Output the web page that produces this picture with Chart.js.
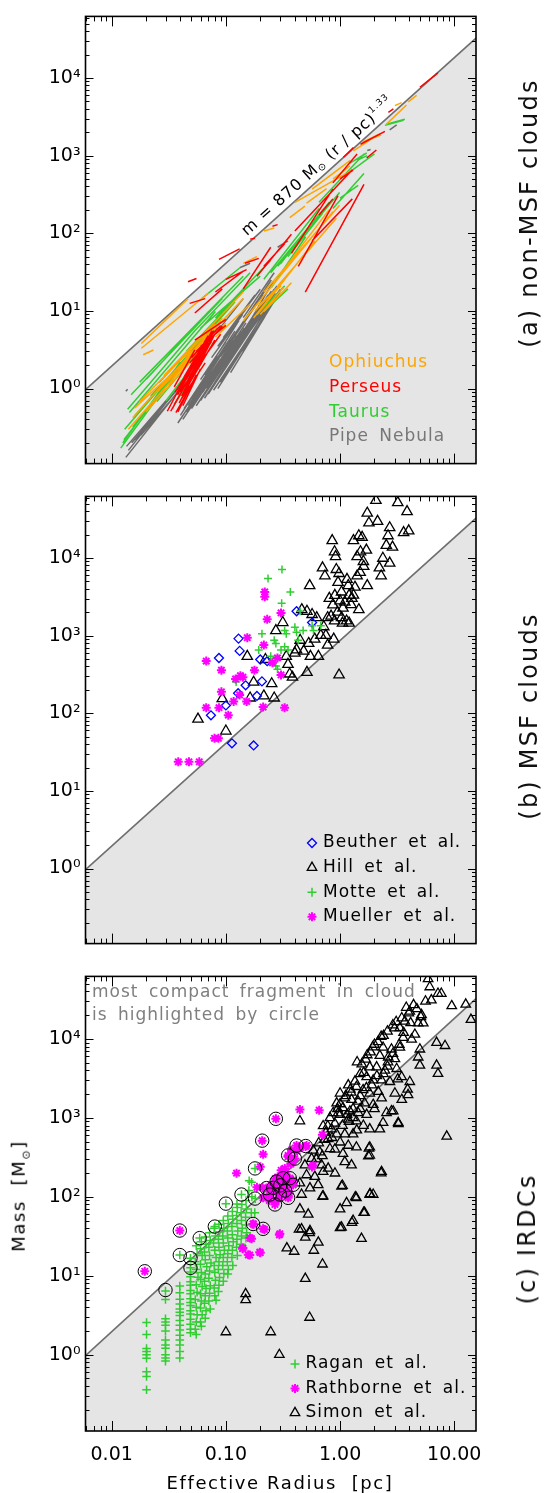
<!DOCTYPE html>
<html>
<head>
<meta charset="utf-8">
<title>Mass-radius relation of clouds</title>
<script src="https://cdn.jsdelivr.net/npm/chart.js@4.4.1/dist/chart.umd.min.js"></script>
<style>
  html, body { margin: 0; padding: 0; background: #fff; }
  body { position: relative; width: 545px; height: 1493px; overflow: hidden; font-family: "DejaVu Sans", sans-serif; }
  .panel { position: absolute; left: 0; width: 545px; }
  .rot { position: absolute; white-space: nowrap; transform: translate(-50%, -50%) rotate(-90deg); }
  .side { font-size: 24px; letter-spacing: 2.2px; color: #111; }
  .axis-title { position: absolute; white-space: nowrap; font-size: 18px; letter-spacing: 1.6px; color: #000; }
  .axis-title sub { font-size: 11px; }
</style>
</head>
<body>
<div class="panel" style="top:0;height:480px"><canvas id="panel-a" width="545" height="480"></canvas></div>
<div class="panel" style="top:480px;height:480px"><canvas id="panel-b" width="545" height="480"></canvas></div>
<div class="panel" style="top:960px;height:533px"><canvas id="panel-c" width="545" height="533"></canvas></div>

<div class="rot side" style="left:529px;top:213px">(a) non-MSF clouds</div>
<div class="rot side" style="left:529px;top:716px">(b) MSF clouds</div>
<div class="rot side" style="left:527px;top:1239px">(c) IRDCs</div>
<div class="rot axis-title" style="left:20px;top:1196px">Mass&nbsp;&nbsp;[M<sub>⊙</sub>]</div>
<div class="axis-title" style="left:280px;top:1482px;transform:translate(-50%,-50%)">Effective Radius&nbsp;&nbsp;[pc]</div>

<script>
Chart.defaults.font.family = '"DejaVu Sans", sans-serif';
Chart.defaults.color = '#000';

const FONT = '"DejaVu Sans", sans-serif';
const X_MIN = 0.0059, X_MAX = 15.5;
const Y_MIN = 0.108, Y_MAX = 62000;
const xMajor = [0.01, 0.1, 1, 10];
const xTickLabels = ['0.01', '0.10', '1.00', '10.00'];
const yMajor = [1, 10, 100, 1000, 10000];
const yTickLabels = ['10⁰', '10¹', '10²', '10³', '10⁴'];

// m = 870 Msun (r/pc)^1.33, end points read where it meets the frame
const relR = [0.0059, 15.5];
const relM = [0.97, 32500];

// panel (a): dendrogram tracks, [r1, m1, r2, m2]
const ophSegs = [
  [0.0182, 3.8, 0.0466, 14.4], [0.0182, 3.3, 0.0706, 17], [0.0189, 2.72, 0.0232, 3.14],
  [0.0153, 0.42, 0.093, 8.1], [0.0158, 0.56, 0.0614, 3.45], [0.0176, 0.68, 0.081, 6.7],
  [0.0232, 0.83, 0.142, 14.4], [0.0286, 1.46, 0.142, 17.5], [0.0307, 1.0, 0.0535, 3.8],
  [0.187, 8.9, 0.284, 19.2], [0.194, 11.9, 0.304, 21], [0.175, 8.1, 0.265, 17.5],
  [0.142, 7.4, 0.865, 189], [0.215, 17.5, 0.99, 230], [0.284, 21, 0.928, 156],
  [0.402, 250, 1.28, 650], [0.142, 41, 0.187, 50], [0.215, 107, 0.265, 117],
  [1.31, 1150, 2.13, 1850], [3.02, 4400, 3.46, 4800], [1.99, 1690, 2.29, 1850],
  [0.569, 370, 1.23, 870], [0.215, 9.8, 0.375, 23], [0.081, 4.6, 0.163, 12.2],
  [0.363, 159, 0.492, 223], [0.509, 245, 0.762, 376], [0.871, 500, 1.22, 734],
  [1.59, 1500, 2.23, 1900], [2.55, 2540, 3.82, 4490], [3.95, 4930, 4.68, 5970],
  [0.014, 0.3, 0.05, 2.5], [0.02, 0.5, 0.07, 4.0], [0.025, 0.9, 0.1, 7.0],
  [0.04, 2.0, 0.12, 11], [0.18, 10, 0.3, 22], [0.2, 9, 0.32, 20],
  [0.22, 12, 0.6, 80], [0.3, 30, 0.8, 200]
];
const perSegs = [
  [0.0329, 0.51, 0.0659, 3.14], [0.0353, 0.62, 0.0706, 3.8], [0.0378, 0.83, 0.0757, 5.56],
  [0.0391, 1.0, 0.0706, 4.6], [0.0405, 0.72, 0.0659, 2.14], [0.0434, 1.21, 0.0784, 5.56],
  [0.0353, 1.05, 0.0535, 3.14], [0.0482, 2.14, 0.093, 6.4], [0.0535, 4.2, 0.1, 7.8],
  [0.0365, 0.49, 0.0535, 1.33], [0.0307, 0.51, 0.0465, 1.61], [0.04, 0.9, 0.07, 3.5],
  [0.045, 1.0, 0.08, 4.2], [0.042, 0.6, 0.06, 1.8], [0.05, 1.5, 0.09, 5.0],
  [0.034, 0.55, 0.06, 2.6], [0.037, 0.7, 0.065, 3.2], [0.039, 0.65, 0.062, 2.4],
  [0.041, 0.8, 0.07, 3.9], [0.044, 0.9, 0.075, 4.4], [0.047, 1.1, 0.08, 5.0],
  [0.036, 0.9, 0.058, 2.8], [0.043, 1.4, 0.07, 4.8], [0.05, 2.5, 0.085, 6.0],
  [0.055, 3.0, 0.09, 6.5], [0.038, 0.5, 0.055, 1.5], [0.06, 3.5, 0.1, 6.5],
  [0.0466, 23.7, 0.0553, 26.1], [0.087, 46, 0.132, 63], [0.163, 84, 0.18, 86],
  [0.256, 123, 0.284, 129], [0.0482, 12.5, 0.0659, 14.4], [0.0535, 9.4, 0.093, 19.2],
  [0.081, 17.5, 0.142, 32.5], [0.1, 25.5, 0.152, 34], [0.147, 41, 0.194, 47.5],
  [0.375, 55, 0.865, 369], [0.402, 107, 1.28, 655], [0.496, 17.5, 1.62, 425],
  [0.431, 37.5, 0.96, 305], [0.569, 80, 1.28, 277], [0.865, 445, 1.41, 1050],
  [1.51, 1400, 2.47, 2050], [5.0, 7590, 7.2, 11600], [2.65, 3600, 2.93, 4000],
  [1.07, 950, 1.31, 1270], [0.654, 172, 0.865, 277], [0.142, 19.2, 0.247, 66],
  [0.187, 28, 0.375, 97], [0.215, 37.5, 0.327, 73], [1.0, 500, 1.3, 650],
  [1.71, 930, 2.08, 1180]
];
const tauSegs = [
  [0.012, 0.171, 0.0535, 3.45], [0.0128, 0.22, 0.0706, 5.56], [0.0138, 0.54, 0.0535, 5.56],
  [0.0143, 0.49, 0.081, 9.8], [0.0148, 0.83, 0.093, 14.4], [0.0176, 1.21, 0.142, 28],
  [0.0202, 1.33, 0.0706, 9.8], [0.0153, 0.32, 0.0465, 2.6], [0.017, 0.39, 0.0535, 3.14],
  [0.0249, 0.68, 0.081, 5.56], [0.0286, 1.0, 0.107, 11.9], [0.0353, 0.62, 0.0614, 2.14],
  [0.0535, 5.56, 0.163, 31], [0.081, 8.1, 0.247, 45], [0.187, 8.9, 0.327, 21],
  [0.215, 9.8, 0.35, 19.2], [0.215, 25.5, 0.654, 208], [0.247, 31, 0.805, 250],
  [0.284, 37.5, 0.99, 335], [0.654, 250, 1.62, 1050], [1.28, 650, 2.0, 1050],
  [2.47, 2450, 3.6, 2850], [0.865, 208, 1.62, 590], [1.41, 870, 1.73, 1000],
  [0.0614, 14.4, 0.132, 35.7], [2.55, 2540, 3.69, 2930], [1.22, 800, 1.71, 1080],
  [1.0, 283, 1.44, 414], [0.0125, 0.2, 0.04, 2.2], [0.013, 0.3, 0.05, 3.0],
  [0.016, 0.45, 0.06, 4.2], [0.019, 0.6, 0.07, 5.0], [0.022, 0.8, 0.09, 7.5],
  [0.026, 1.2, 0.1, 10], [0.03, 0.7, 0.075, 4.0], [0.035, 1.7, 0.12, 13],
  [0.045, 3.0, 0.13, 16], [0.06, 6.0, 0.2, 28], [0.3, 40, 0.6, 150],
  [0.35, 50, 0.7, 180], [0.25, 20, 0.5, 90]
];
const pipeSegs = [
  [0.038, 0.36, 0.09, 2.4], [0.042, 0.40, 0.10, 2.7], [0.045, 0.50, 0.11, 3.5],
  [0.050, 0.55, 0.12, 3.8], [0.055, 0.60, 0.13, 4.0], [0.060, 0.70, 0.14, 4.5],
  [0.065, 0.75, 0.15, 4.8], [0.070, 0.85, 0.16, 5.3], [0.050, 0.75, 0.11, 4.2],
  [0.055, 0.95, 0.12, 5.5], [0.060, 1.1, 0.13, 6.0], [0.070, 1.3, 0.15, 7.0],
  [0.080, 1.2, 0.18, 7.5], [0.090, 1.5, 0.20, 9.0], [0.100, 2.0, 0.22, 12],
  [0.110, 2.4, 0.24, 14], [0.120, 3.0, 0.27, 17], [0.130, 3.5, 0.30, 19],
  [0.090, 2.6, 0.19, 13], [0.100, 3.2, 0.21, 16], [0.110, 4.0, 0.23, 20],
  [0.120, 5.0, 0.25, 25], [0.075, 1.8, 0.16, 9], [0.085, 1.0, 0.17, 5],
  [0.100, 1.5, 0.20, 7], [0.140, 4.5, 0.30, 18], [0.0133, 0.13, 0.040, 1.0],
  [0.014, 0.16, 0.045, 1.4], [0.015, 0.20, 0.050, 1.6], [0.0135, 0.18, 0.030, 0.7],
  [0.016, 0.22, 0.055, 1.9], [0.018, 0.25, 0.045, 1.2],
  [0.040, 0.45, 0.085, 2.6], [0.043, 0.55, 0.095, 3.2], [0.047, 0.60, 0.10, 3.4],
  [0.052, 0.65, 0.115, 4.2], [0.058, 0.80, 0.125, 4.8], [0.063, 0.90, 0.135, 5.5],
  [0.068, 1.0, 0.145, 6.0], [0.073, 1.1, 0.155, 6.5], [0.078, 1.3, 0.17, 7.5],
  [0.083, 1.6, 0.18, 9.0], [0.088, 1.9, 0.19, 10.5], [0.095, 2.2, 0.205, 12],
  [0.105, 2.8, 0.22, 14], [0.115, 3.3, 0.235, 16], [0.125, 3.8, 0.25, 18],
  [0.135, 4.2, 0.265, 19], [0.145, 5.0, 0.28, 21], [0.15, 6.0, 0.26, 24],
  [0.095, 4.5, 0.18, 16], [0.105, 5.5, 0.2, 19], [0.085, 3.5, 0.16, 12],
  [0.075, 2.5, 0.14, 9], [0.065, 1.5, 0.13, 7.5], [0.06, 1.3, 0.1, 4.0],
  [0.078, 0.95, 0.16, 4.6], [0.09, 1.2, 0.19, 6.3], [0.11, 1.6, 0.22, 8.5],
  [0.12, 2.4, 0.25, 13], [0.14, 3.0, 0.28, 16], [0.16, 4.0, 0.3, 18],
  [0.081, 5.1, 0.142, 14.4], [0.142, 8.2, 0.265, 31], [0.132, 36, 0.163, 41],
  [0.284, 66, 0.35, 80], [1.73, 1160, 1.85, 1200], [2.72, 2150, 3.13, 2485],
  [0.0133, 0.92, 0.0138, 0.98]
];

// panel (b): [r, m]
const beutherPts = [
  [0.087, 515], [0.074, 94], [0.1, 126], [0.129, 914], [0.132, 635], [0.113, 41], [0.175, 38.5],
  [0.149, 229], [0.128, 181], [0.187, 167], [0.207, 257], [0.2, 492], [0.416, 2056], [0.569, 1472], [0.23, 468]
];
const hillPts = [
  [0.057, 84], [0.1, 59], [0.093, 154], [0.154, 541], [0.163, 157], [0.175, 251], [0.215, 167], [0.252, 240],
  [0.265, 157], [0.274, 1160], [0.222, 492], [0.315, 1472], [0.338, 541], [0.35, 426], [0.362, 320], [0.383, 291],
  [0.402, 595], [0.462, 2155], [0.447, 871], [0.513, 336], [0.531, 792], [0.55, 541], [0.542, 4400], [0.569, 1868],
  [0.646, 541], [0.678, 1005], [0.702, 7440], [0.737, 5860], [0.778, 755], [0.805, 3010], [0.853, 16700], [0.895, 12000],
  [0.914, 10400], [0.927, 7100], [0.96, 4840], [0.98, 311], [0.865, 2485], [0.834, 1780], [0.895, 1543], [1.03, 3640],
  [1.06, 2260], [1.14, 1543], [1.18, 4400], [1.27, 3010], [1.31, 16700], [1.41, 5860], [1.46, 19300], [1.56, 18400],
  [1.41, 10400], [1.51, 12000], [1.61, 7800], [1.73, 4400], [1.70, 12600], [1.46, 2155], [1.31, 3310], [1.73, 37700],
  [1.79, 28200], [2.13, 29600], [2.06, 55100], [2.21, 7440], [2.29, 5860], [2.37, 9900], [2.54, 14500], [2.63, 19300],
  [2.72, 24500], [2.72, 8590], [2.88, 13800], [3.2, 51500], [3.6, 21200], [3.86, 39500], [3.99, 22300], [0.751, 1005],
  [0.416, 654], [1.03, 1700], [0.778, 1700], [0.624, 1700], [0.513, 2056], [0.95, 2000], [1.1, 2700], [1.2, 3300],
  [0.9, 3300], [1.0, 2800], [1.25, 2500], [1.35, 4200], [1.15, 5300], [0.98, 6300], [1.5, 6500], [1.6, 9000],
  [1.05, 1450], [1.2, 1450], [0.72, 1300], [0.6, 900], [0.48, 630], [0.88, 900]
];
const mottePts = [
  [0.31, 7100], [0.234, 5430], [0.367, 3640], [0.308, 2610], [0.447, 2056], [0.207, 1054], [0.194, 654],
  [0.265, 871], [0.274, 792], [0.327, 1160], [0.338, 1054], [0.402, 1276], [0.416, 1106], [0.43, 871],
  [0.475, 1160], [0.569, 1337], [0.585, 1160], [0.678, 1337], [0.304, 654], [0.327, 720], [0.35, 654],
  [0.247, 541], [0.256, 468], [0.274, 406], [0.283, 369], [0.123, 252]
];
const muellerPts = [
  [0.0383, 23.7], [0.0475, 23.7], [0.0585, 23.7], [0.0795, 47.5], [0.086, 47.5], [0.0673, 118], [0.087, 118],
  [0.105, 94.5], [0.0914, 189], [0.0914, 359], [0.0673, 469], [0.1217, 277], [0.134, 305], [0.141, 291],
  [0.117, 142], [0.132, 172], [0.152, 142], [0.178, 359], [0.154, 940], [0.215, 755], [0.219, 3640],
  [0.219, 3155], [0.23, 1620], [0.304, 1960], [0.212, 120], [0.256, 447], [0.283, 515], [0.304, 311], [0.327, 118]
];

// panel (c): [r, m]
const raganPts = [
  [0.0202, 2.55], [0.0202, 1.8], [0.0202, 1.2], [0.0202, 1.1], [0.0202, 1.0], [0.0202, 0.9], [0.0202, 0.61], [0.0202, 0.53], [0.0202, 0.36],
  [0.0296, 6.4], [0.0296, 5.0], [0.0296, 2.85], [0.0296, 2.6], [0.0296, 2.36], [0.0296, 2.0], [0.0296, 1.54], [0.0296, 1.33],
  [0.0296, 1.21], [0.0296, 1.0], [0.0296, 0.91], [0.0296, 0.83],
  [0.0395, 18.3], [0.0395, 7.4], [0.0395, 6.1], [0.0395, 5.05], [0.0395, 4.4], [0.0395, 3.8], [0.0395, 3.45], [0.0395, 3.14],
  [0.0395, 2.72], [0.0395, 2.36], [0.0395, 2.05], [0.0395, 1.77], [0.0395, 1.54], [0.0395, 1.33], [0.0395, 1.1], [0.0395, 0.91],
  [0.049, 16.7], [0.049, 12.6], [0.049, 11.2], [0.049, 9.7], [0.049, 8.4], [0.049, 7.6], [0.049, 6.5], [0.049, 5.9], [0.049, 5.1],
  [0.049, 4.6], [0.049, 4.2], [0.049, 3.6], [0.049, 3.27], [0.049, 2.82], [0.049, 2.43], [0.049, 2.1], [0.049, 1.9],
  [0.055, 24], [0.056, 19], [0.054, 15], [0.055, 12], [0.057, 9.6], [0.055, 7.7], [0.056, 6.2], [0.054, 5], [0.055, 4],
  [0.056, 3.2], [0.055, 2.6], [0.054, 2.1], [0.055, 1.8], [0.059, 30],
  [0.061, 27], [0.06, 22], [0.062, 18], [0.06, 14], [0.061, 11], [0.06, 9], [0.062, 7.3], [0.06, 5.9], [0.061, 4.8],
  [0.06, 3.9], [0.062, 3.2], [0.06, 2.6], [0.061, 2.3],
  [0.066, 31], [0.067, 25], [0.065, 20], [0.066, 16], [0.068, 13], [0.066, 10.5], [0.065, 8.5], [0.067, 6.9], [0.066, 5.6],
  [0.065, 4.5], [0.067, 3.6], [0.066, 2.9],
  [0.072, 35], [0.073, 28], [0.071, 23], [0.072, 18], [0.074, 14.5], [0.072, 11.5], [0.071, 9.3], [0.073, 7.5], [0.072, 6],
  [0.071, 4.8], [0.073, 3.8],
  [0.08, 42], [0.079, 40], [0.081, 32], [0.078, 26], [0.08, 21], [0.082, 17], [0.079, 13.5], [0.08, 11], [0.081, 8.8],
  [0.079, 7], [0.08, 5.6], [0.082, 4.9],
  [0.087, 45], [0.088, 36], [0.086, 29], [0.087, 23], [0.089, 18.5], [0.087, 15], [0.086, 12], [0.088, 9.5], [0.087, 7.6], [0.086, 6.3],
  [0.095, 50], [0.096, 40], [0.094, 32], [0.095, 26], [0.097, 21], [0.095, 17], [0.094, 13.5], [0.096, 10.7], [0.095, 8.5],
  [0.1, 82],
  [0.104, 57], [0.105, 46], [0.103, 37], [0.104, 30], [0.106, 24], [0.104, 19], [0.103, 15], [0.105, 12], [0.104, 10.5],
  [0.114, 65], [0.115, 52], [0.113, 42], [0.114, 33], [0.116, 27], [0.114, 21], [0.113, 17], [0.115, 13.5],
  [0.125, 81], [0.126, 73], [0.124, 58], [0.125, 46], [0.127, 37], [0.125, 29], [0.124, 23], [0.126, 18],
  [0.137, 107], [0.138, 80], [0.136, 63], [0.137, 50], [0.139, 40], [0.137, 32], [0.136, 25],
  [0.15, 90], [0.151, 70], [0.149, 55], [0.15, 44], [0.152, 35], [0.15, 30],
  [0.16, 160], [0.159, 120], [0.168, 153], [0.169, 100], [0.167, 63], [0.168, 45],
  [0.18, 229], [0.181, 95], [0.179, 63]
];
const rathbornePts = [
  [0.0195, 11.4], [0.0395, 37.4], [0.274, 973], [0.208, 515], [0.212, 345], [0.2, 240], [0.124, 199],
  [0.445, 1276], [0.656, 1250], [0.70, 612], [0.294, 33], [0.198, 19.9], [0.157, 18.4], [0.141, 22.4],
  [0.163, 30.1], [0.168, 29.5], [0.14, 22], [0.162, 18.3], [0.2, 19.6], [0.297, 34], [0.173, 45.3],
  [0.212, 39.3], [0.175, 45], [0.218, 38.6], [0.351, 335], [0.416, 447], [0.509, 447], [0.402, 305],
  [0.278, 156], [0.318, 172], [0.363, 172], [0.297, 107], [0.351, 97], [0.269, 80], [0.388, 142],
  [0.243, 107], [0.212, 97], [0.227, 129], [0.582, 252], [0.328, 229], [0.23, 99], [0.247, 120],
  [0.265, 146], [0.284, 178], [0.305, 217], [0.35, 322], [0.376, 393], [0.499, 433], [0.274, 89],
  [0.305, 109], [0.338, 120], [0.362, 146], [0.387, 161], [0.326, 178], [0.568, 239], [0.187, 132],
  [0.21, 130], [0.25, 140], [0.26, 115], [0.28, 125], [0.3, 150], [0.29, 95], [0.32, 130], [0.34, 160],
  [0.31, 190], [0.33, 200], [0.37, 260], [0.39, 300], [0.42, 380], [0.45, 420], [0.36, 110], [0.27, 170], [0.24, 90]
];
const simonPts = [
  [5.9, 57700], [6.1, 45500], [7.2, 37600], [7.7, 37600], [6.3, 31000], [9.5, 26200], [4.08, 22300], [5.17, 20200],
  [4.83, 15900], [5.35, 15900], [3.69, 16700], [3.34, 13800], [4.52, 11400], [3.57, 10400], [4.23, 9900], [7.0, 9000],
  [8.3, 8200], [5.0, 7400], [2.38, 7800], [2.82, 7400], [3.34, 7800], [2.23, 6150], [2.64, 5860], [3.02, 5580],
  [4.83, 5860], [5.0, 4620], [7.0, 4620], [7.2, 3630], [1.82, 4400], [2.09, 4400], [2.47, 4000], [3.13, 4190],
  [3.46, 3300], [1.71, 3300], [1.95, 3000], [2.31, 3000], [2.73, 2870], [4.08, 2870], [1.18, 2600], [1.39, 2480],
  [1.59, 2260], [1.82, 2050], [2.16, 2150], [3.02, 2050], [1.0, 2050], [1.1, 1780], [1.26, 1700], [1.44, 1620],
  [1.64, 1540], [1.95, 1470], [2.31, 1780], [3.94, 1960], [0.934, 1540], [1.06, 1340], [1.22, 1215], [1.44, 1160],
  [1.71, 1100], [1.0, 1100], [0.87, 1160], [1.18, 957], [1.39, 912], [2.55, 1160], [2.92, 1215], [3.23, 869],
  [2.38, 869], [2.23, 720], [1.82, 720], [0.815, 1000], [0.711, 790], [0.843, 720], [0.934, 624], [1.1, 624],
  [1.3, 624], [0.787, 541], [1.0, 491], [1.18, 447], [1.39, 425], [0.815, 406], [1.06, 352], [0.665, 369],
  [0.582, 387], [0.563, 305], [1.82, 425], [1.82, 336], [1.1, 277], [1.26, 252], [0.689, 252], [0.787, 229],
  [0.902, 199], [0.445, 912], [0.601, 180], [0.711, 208], [0.492, 252], [0.509, 189], [2.31, 208], [0.445, 149],
  [0.643, 142], [0.545, 129], [0.46, 107], [0.711, 102], [1.03, 136], [1.82, 107], [1.95, 107], [1.14, 84],
  [1.39, 97], [1.64, 63], [1.0, 70], [0.445, 70], [0.526, 60], [1.3, 50], [1.03, 41], [0.46, 39], [0.545, 37],
  [8.59, 583], [12.6, 27400], [14.0, 17600], [3.24, 839], [2.82, 1222], [1.79, 412], [1.77, 329], [2.29, 200],
  [1.83, 109], [1.61, 63], [1.36, 99], [1.27, 47], [1.54, 29.6], [1.0, 40.5], [1.05, 139], [0.702, 101],
  [0.437, 38.6], [0.496, 30.7], [0.541, 34.9], [0.645, 26.5], [0.589, 20.9], [0.702, 14], [0.496, 9.2],
  [0.396, 20.3], [0.342, 22.4], [0.149, 5.9], [0.149, 4.95], [0.541, 2.96], [0.247, 1.94], [0.1, 1.94], [0.294, 1.0],
  [3.47, 18400], [4.0, 21300], [4.15, 16000], [5.1, 19000], [3.0, 13700], [2.29, 10700], [1.93, 7900], [1.73, 6260],
  [1.41, 5100], [1.61, 3750], [1.23, 2300], [0.96, 1150], [0.78, 790], [0.73, 530], [2.63, 5100], [3.2, 3100],
  [3.9, 2300], [3.47, 1700],
  [1.0, 1500], [1.12, 1900], [1.25, 2100], [1.35, 2900], [1.5, 3600], [1.55, 4800], [1.68, 5500], [1.85, 6800],
  [2.0, 8500], [2.15, 9200], [2.4, 11000], [2.6, 12500], [2.9, 15000], [3.1, 16500], [1.15, 1100], [1.3, 1300],
  [1.5, 1900], [1.7, 2400], [1.9, 2600], [2.1, 3400], [2.4, 3600], [2.6, 4500], [2.9, 6500], [3.3, 8500],
  [3.6, 12000], [0.9, 850], [0.95, 1300], [1.05, 800], [1.2, 900], [1.5, 1300], [0.75, 650], [0.85, 560],
  [0.65, 480], [0.62, 300], [0.7, 330], [0.9, 400], [1.4, 700], [1.6, 800], [1.3, 1000], [2.0, 1300],
  [4.4, 27000], [4.7, 24000], [3.8, 25000], [5.6, 30000]
];
// most compact fragment in each cloud
const compactPts = [
  [0.0195, 11.4], [0.0296, 6.6], [0.0395, 18.3], [0.0395, 37.4], [0.049, 16.7], [0.049, 12.6], [0.059, 30],
  [0.08, 42], [0.1, 82], [0.137, 107], [0.18, 229], [0.208, 515], [0.274, 973], [0.173, 45.3], [0.212, 39.3],
  [0.18, 95], [0.243, 107], [0.269, 80], [0.278, 156], [0.297, 107], [0.318, 172], [0.351, 97], [0.363, 172],
  [0.388, 142], [0.351, 335], [0.416, 447], [0.402, 305], [0.227, 129], [0.26, 130], [0.3, 140], [0.33, 120], [0.5, 440]
];

const ORANGE = '#ffa500', RED = '#ff0000', GREEN = '#32cd32', PIPE = '#6b6b6b';
const BLUE = '#0000ff', MAGENTA = '#ff00ff', BLACK = '#000000';

function minorTicks(lo, hi) {
  const out = [];
  for (let e = -3; e <= 5; e++) {
    for (let k = 2; k <= 9; k++) {
      const v = k * Math.pow(10, e);
      if (v > lo && v < hi) out.push(v);
    }
  }
  return out;
}
const xMinor = minorTicks(X_MIN, X_MAX);
const yMinor = minorTicks(Y_MIN, Y_MAX);

function makeScales(showX, xHeight) {
  return {
    x: {
      type: 'logarithmic', min: X_MIN, max: X_MAX,
      grid: { display: false, drawTicks: false },
      border: { display: false },
      afterBuildTicks: s => { s.ticks = xMajor.map(v => ({ value: v })); },
      ticks: {
        autoSkip: false, maxRotation: 0, minRotation: 0, padding: 13, color: '#000',
        font: { size: 19, family: FONT },
        callback: (v, i) => showX ? xTickLabels[i] : ''
      },
      afterFit: s => { s.height = xHeight; }
    },
    y: {
      type: 'logarithmic', min: Y_MIN, max: Y_MAX,
      grid: { display: false, drawTicks: false },
      border: { display: false },
      afterBuildTicks: s => { s.ticks = yMajor.map(v => ({ value: v })); },
      ticks: {
        autoSkip: false, padding: 5, color: '#000',
        font: { size: 19, family: FONT },
        callback: (v, i) => yTickLabels[i]
      },
      afterFit: s => { s.width = 85.5; }
    }
  };
}

function relationDataset() {
  return {
    type: 'line',
    data: relR.map((r, i) => ({ x: r, y: relM[i] })),
    borderColor: '#6e6e6e', borderWidth: 1.6,
    backgroundColor: '#e5e5e5', fill: 'start',
    pointRadius: 0, order: 20
  };
}

function segmentDataset(segs, color, order) {
  const pts = [];
  segs.forEach(s => {
    pts.push({ x: s[0], y: s[1] }, { x: s[2], y: s[3] }, { x: s[2], y: null });
  });
  return {
    type: 'line', data: pts, borderColor: color, borderWidth: 1.5,
    pointRadius: 0, spanGaps: false, fill: false, order: order
  };
}

function markerDataset(pts, style, color, radius, width, order) {
  return {
    type: 'scatter',
    data: pts.map(p => ({ x: p[0], y: p[1] })),
    pointStyle: style, pointRadius: radius, pointBorderWidth: width,
    pointBorderColor: color, pointBackgroundColor: 'rgba(0,0,0,0)',
    borderColor: color, backgroundColor: 'rgba(0,0,0,0)', order: order
  };
}

// frame with inward ticks on all four sides
const frameTicks = {
  id: 'frameTicks',
  afterDatasetsDraw(chart) {
    const { ctx, chartArea: a, scales: { x, y } } = chart;
    ctx.save();
    ctx.strokeStyle = '#000';
    ctx.lineWidth = 1;
    ctx.beginPath();
    const xt = xMajor.map(v => [v, 10]).concat(xMinor.map(v => [v, 5]));
    xt.forEach(([v, len]) => {
      const px = Math.round(x.getPixelForValue(v)) + 0.5;
      ctx.moveTo(px, a.bottom); ctx.lineTo(px, a.bottom - len);
      ctx.moveTo(px, a.top); ctx.lineTo(px, a.top + len);
    });
    const yt = yMajor.map(v => [v, 8]).concat(yMinor.map(v => [v, 4]));
    yt.forEach(([v, len]) => {
      const py = Math.round(y.getPixelForValue(v)) + 0.5;
      ctx.moveTo(a.left, py); ctx.lineTo(a.left + len, py);
      ctx.moveTo(a.right, py); ctx.lineTo(a.right - len, py);
    });
    ctx.stroke();
    ctx.lineWidth = 1.6;
    ctx.strokeRect(a.left, a.top, a.right - a.left, a.bottom - a.top);
    ctx.restore();
  }
};

// in-plot texts: legend entries (with optional marker) and free notes
function textPlugin(cfg) {
  return {
    id: 'panelText',
    afterDraw(chart) {
      const ctx = chart.ctx;
      ctx.save();
      ctx.textBaseline = 'middle';
      ctx.textAlign = 'left';
      ctx.letterSpacing = '1px';
      ctx.wordSpacing = '4px';
      (cfg.notes || []).forEach(n => {
        ctx.font = '17px ' + FONT;
        ctx.fillStyle = n.color;
        ctx.fillText(n.text, n.x, n.y);
      });
      (cfg.items || []).forEach((it, i) => {
        const yy = cfg.y + i * cfg.dy;
        if (it.style) {
          ctx.strokeStyle = it.color;
          ctx.fillStyle = 'rgba(0,0,0,0)';
          ctx.lineWidth = it.lw;
          Chart.helpers.drawPoint(ctx, { pointStyle: it.style, radius: it.r, borderWidth: it.lw, rotation: 0 }, cfg.markerX, yy);
        }
        ctx.font = '17px ' + FONT;
        ctx.fillStyle = it.textColor;
        ctx.fillText(it.label, cfg.textX, yy);
      });
      ctx.restore();
    }
  };
}

// label running along the relation line in panel (a)
const relationLabel = {
  id: 'relationLabel',
  afterDatasetsDraw(chart) {
    const { ctx, scales: { x, y } } = chart;
    const x1 = x.getPixelForValue(relR[0]), y1 = y.getPixelForValue(relM[0]);
    const x2 = x.getPixelForValue(relR[1]), y2 = y.getPixelForValue(relM[1]);
    const t = 0.613;
    const cx = x1 + t * (x2 - x1), cy = y1 + t * (y2 - y1);
    const parts = [
      { text: 'm = 870 M', size: 16, dy: 0 },
      { text: '⊙', size: 10, dy: 2 },
      { text: ' (r / pc)', size: 16, dy: 0 },
      { text: '1.33', size: 9, dy: -8 }
    ];
    ctx.save();
    ctx.translate(cx, cy);
    ctx.rotate(Math.atan2(y2 - y1, x2 - x1));
    ctx.fillStyle = '#000';
    ctx.textBaseline = 'alphabetic';
    ctx.textAlign = 'left';
    ctx.letterSpacing = '1px';
    let total = 0;
    parts.forEach(p => { ctx.font = p.size + 'px ' + FONT; p.w = ctx.measureText(p.text).width; total += p.w; });
    let px = -total / 2;
    parts.forEach(p => {
      ctx.font = p.size + 'px ' + FONT;
      ctx.fillText(p.text, px, -6 + p.dy);
      px += p.w;
    });
    ctx.restore();
  }
};

function baseOptions(showX, xHeight, padTop) {
  return {
    responsive: false,
    animation: false,
    events: [],
    layout: { padding: { top: padTop, right: 69, bottom: 0, left: 0 } },
    plugins: { legend: { display: false }, tooltip: { enabled: false } },
    scales: makeScales(showX, xHeight)
  };
}

// (a) non-MSF clouds
new Chart(document.getElementById('panel-a'), {
  type: 'scatter',
  data: {
    datasets: [
      segmentDataset(perSegs, RED, 1),
      segmentDataset(ophSegs, ORANGE, 2),
      segmentDataset(tauSegs, GREEN, 3),
      segmentDataset(pipeSegs, PIPE, 4),
      relationDataset()
    ]
  },
  options: baseOptions(false, 8.3, 8.2),
  plugins: [frameTicks, relationLabel, textPlugin({
    textX: 329, y: 363, dy: 24.6,
    items: [
      { label: 'Ophiuchus', textColor: ORANGE },
      { label: 'Perseus', textColor: RED },
      { label: 'Taurus', textColor: GREEN },
      { label: 'Pipe Nebula', textColor: '#777777' }
    ]
  })]
});

// (b) MSF clouds
new Chart(document.getElementById('panel-b'), {
  type: 'scatter',
  data: {
    datasets: [
      markerDataset(muellerPts, 'star', MAGENTA, 4.5, 2, 1),
      markerDataset(mottePts, 'cross', GREEN, 4, 1.5, 2),
      markerDataset(beutherPts, 'rectRot', BLUE, 4.5, 1.3, 3),
      markerDataset(hillPts, 'triangle', BLACK, 6, 1.3, 4),
      relationDataset()
    ]
  },
  options: baseOptions(false, 8.8, 7.7),
  plugins: [frameTicks, textPlugin({
    markerX: 312, textX: 323, y: 363, dy: 24.6,
    items: [
      { label: 'Beuther et al.', textColor: '#000', style: 'rectRot', color: BLUE, r: 4.5, lw: 1.3 },
      { label: 'Hill et al.', textColor: '#000', style: 'triangle', color: BLACK, r: 5.5, lw: 1.3 },
      { label: 'Motte et al.', textColor: '#000', style: 'cross', color: GREEN, r: 4.5, lw: 1.5 },
      { label: 'Mueller et al.', textColor: '#000', style: 'star', color: MAGENTA, r: 4.5, lw: 2 }
    ]
  })]
});

// (c) IRDCs
new Chart(document.getElementById('panel-c'), {
  type: 'scatter',
  data: {
    datasets: [
      markerDataset(compactPts, 'circle', BLACK, 6.7, 1, 1),
      markerDataset(rathbornePts, 'star', MAGENTA, 4.5, 2, 2),
      markerDataset(raganPts, 'cross', GREEN, 4.3, 1.5, 3),
      markerDataset(simonPts, 'triangle', BLACK, 5.5, 1.3, 4),
      relationDataset()
    ]
  },
  options: baseOptions(true, 62, 7.5),
  plugins: [frameTicks, textPlugin({
    markerX: 295, textX: 305.5, y: 404, dy: 24.4,
    notes: [
      { text: 'most compact fragment in cloud', x: 92, y: 32.5, color: '#7f7f7f' },
      { text: 'is highlighted by circle', x: 92, y: 56, color: '#7f7f7f' }
    ],
    items: [
      { label: 'Ragan et al.', textColor: '#000', style: 'cross', color: GREEN, r: 4.5, lw: 1.5 },
      { label: 'Rathborne et al.', textColor: '#000', style: 'star', color: MAGENTA, r: 4.5, lw: 2 },
      { label: 'Simon et al.', textColor: '#000', style: 'triangle', color: BLACK, r: 5.5, lw: 1.3 }
    ]
  })]
});
</script>
</body>
</html>
